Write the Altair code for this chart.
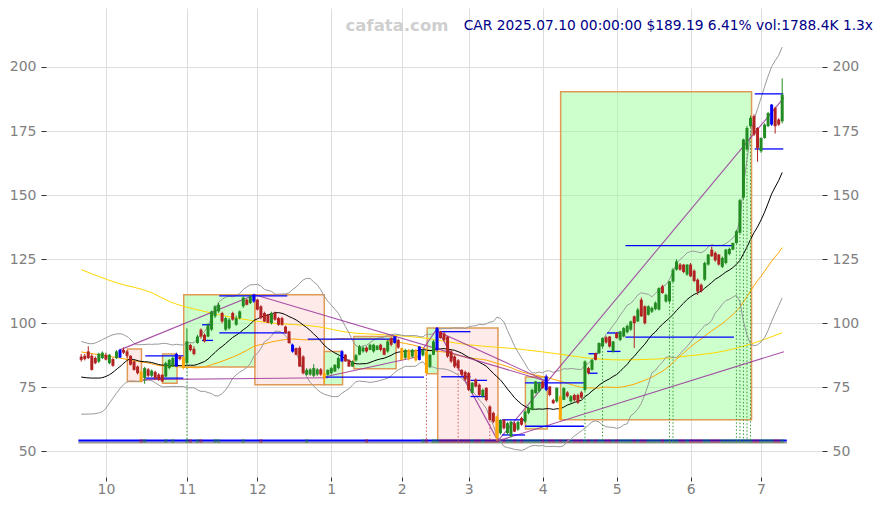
import altair as alt
import pandas as pd

# ---------------- candles (trading-day index 0..199, 2024-09-20 .. 2025-07-10) -------------
open_ = [87.0, 87.3, 89.0, 87.3, 86.5, 85.0, 86.4, 87.7, 84.4, 86.0,
         86.4, 86.6, 89.6, 89.0, 87.3, 85.1, 83.1, 81.2, 78.6, 82.0,
         79.5, 81.0, 80.0, 79.9, 79.2, 82.5, 83.1, 83.1, 87.0, 86.8,
         84.5, 91.5, 90.0, 92.3, 97.5, 95.5, 94.8, 97.5, 102.7, 104.6,
         104.0, 97.5, 98.0, 104.0, 99.4, 102.0, 106.6, 109.2, 107.9, 108.5,
         109.2, 106.6, 104.0, 103.3, 100.0, 104.0, 102.0, 102.0, 98.7, 96.8,
         91.6, 90.3, 90.4, 87.0, 79.9, 80.0, 79.5, 80.0, 82.0, 80.5,
         79.9, 80.5, 81.2, 82.5, 85.1, 87.7, 85.7, 83.1, 85.5, 87.7,
         89.0, 90.5, 89.6, 89.0, 89.6, 91.6, 90.3, 89.0, 94.2, 92.3,
         93.5, 90.3, 86.5, 89.5, 87.0, 89.5, 85.7, 87.5, 89.0, 83.1,
         87.7, 89.6, 96.8, 96.0, 94.8, 89.0, 87.0, 85.5, 81.8, 81.0,
         80.6, 72.8, 78.0, 76.0, 71.5, 74.8, 67.5, 65.0, 63.6, 57.1,
         62.3, 57.1, 55.8, 61.0, 58.5, 63.0, 61.6, 65.0, 66.2, 72.7,
         73.5, 77.3, 74.0, 75.3, 70.0, 69.5, 71.4, 70.1, 73.0, 69.5,
         72.0, 72.0, 73.0, 74.0, 82.5, 81.8, 88.3, 88.3, 90.9, 94.5,
         94.8, 89.0, 96.2, 93.5, 94.8, 96.5, 97.5, 102.7, 100.7, 109.2,
         106.6, 103.3, 104.5, 105.5, 105.3, 114.4, 108.5, 108.5, 116.3, 120.9,
         122.9, 122.9, 119.0, 122.9, 120.5, 117.0, 115.0, 117.0, 122.9, 128.7,
         127.5, 126.8, 122.0, 123.5, 127.0, 128.7, 131.3, 135.3, 149.0, 167.8,
         176.9, 180.8, 176.2, 167.1, 172.3, 176.9, 177.5, 184.0, 179.5, 178.8]
close_ = [85.7, 86.0, 86.4, 81.8, 84.4, 88.1, 88.5, 85.8, 87.7, 83.4,
          89.0, 89.6, 88.5, 87.3, 83.8, 81.8, 80.5, 77.3, 82.5, 79.5,
          81.5, 78.6, 78.0, 77.3, 84.5, 85.7, 86.4, 88.0, 86.0, 82.5,
          92.9, 89.5, 88.0, 94.8, 94.8, 92.9, 99.4, 104.6, 106.6, 107.2,
          100.7, 102.0, 101.4, 101.4, 102.0, 104.6, 110.0, 107.2, 110.5, 111.1,
          105.3, 102.0, 100.7, 100.2, 104.0, 101.4, 99.4, 99.4, 96.2, 92.3,
          88.9, 87.7, 83.1, 80.5, 81.8, 82.0, 82.5, 82.0, 80.0, 78.6,
          81.8, 82.5, 83.8, 86.4, 89.0, 85.1, 83.1, 85.1, 87.5, 90.9,
          90.5, 89.0, 91.6, 91.6, 91.2, 89.6, 87.7, 92.9, 91.6, 94.8,
          90.5, 85.7, 89.5, 86.0, 89.6, 85.5, 90.9, 89.5, 80.5, 87.7,
          92.9, 98.2, 94.2, 93.5, 87.0, 85.1, 83.1, 82.5, 79.9, 78.0,
          74.0, 76.8, 75.3, 72.0, 74.0, 70.0, 62.3, 61.6, 55.3, 62.3,
          59.0, 61.0, 61.6, 57.7, 61.5, 60.4, 65.5, 67.0, 74.0, 77.3,
          76.5, 74.7, 79.2, 72.0, 68.8, 74.8, 62.3, 74.7, 71.5, 71.5,
          70.0, 69.0, 71.0, 85.1, 80.5, 85.7, 85.7, 92.3, 94.2, 92.5,
          90.9, 92.9, 94.2, 96.8, 98.1, 99.0, 100.7, 100.0, 105.3, 102.7,
          100.0, 106.6, 106.0, 108.0, 113.7, 111.8, 111.1, 116.3, 120.9, 124.1,
          120.9, 120.0, 122.9, 118.3, 116.5, 112.4, 112.5, 123.5, 126.8, 126.1,
          124.5, 122.9, 125.5, 128.7, 129.0, 131.3, 135.9, 148.0, 171.7, 176.2,
          180.1, 173.6, 168.4, 172.3, 177.5, 182.0, 185.3, 176.9, 177.5, 189.2]
high_ = [88.0, 88.0, 91.0, 88.0, 87.0, 88.5, 89.0, 88.5, 88.0, 86.5,
         89.5, 90.0, 90.5, 89.5, 87.5, 85.5, 83.5, 81.5, 83.0, 82.5,
         82.0, 81.5, 80.5, 80.0, 85.0, 86.0, 87.0, 88.5, 87.5, 87.0,
         98.0, 92.0, 91.0, 95.5, 98.0, 96.0, 100.0, 105.0, 107.0, 108.0,
         104.5, 102.5, 102.0, 104.5, 103.0, 105.0, 110.5, 109.5, 111.0, 111.5,
         109.5, 107.0, 104.5, 103.5, 104.5, 104.5, 102.5, 102.5, 99.0, 97.0,
         92.0, 90.5, 91.0, 87.5, 82.5, 82.5, 84.0, 82.5, 82.5, 81.0,
         82.0, 83.0, 84.0, 87.0, 89.5, 88.0, 86.0, 85.5, 88.0, 91.5,
         91.0, 91.0, 92.0, 92.0, 91.5, 92.0, 90.5, 93.5, 94.5, 95.0,
         94.0, 90.5, 90.0, 90.0, 90.0, 90.0, 91.0, 90.0, 89.5, 88.0,
         93.5, 98.5, 97.0, 96.5, 95.0, 89.5, 87.5, 86.0, 82.0, 81.5,
         81.0, 77.0, 78.5, 76.5, 74.5, 75.0, 68.0, 65.5, 64.0, 62.5,
         62.5, 61.5, 62.0, 61.5, 62.0, 63.5, 66.0, 67.5, 74.5, 77.5,
         77.0, 77.5, 80.0, 75.5, 70.5, 75.0, 72.0, 75.0, 73.5, 72.0,
         72.5, 72.5, 73.5, 85.5, 83.0, 86.0, 88.5, 92.5, 94.5, 95.0,
         95.0, 93.0, 96.5, 97.0, 98.5, 99.5, 101.0, 103.0, 106.0, 110.0,
         107.0, 107.0, 106.5, 108.5, 114.0, 115.0, 111.5, 116.5, 121.5, 125.0,
         123.5, 123.0, 123.0, 123.5, 121.0, 117.5, 115.5, 124.0, 127.0, 130.0,
         128.0, 127.0, 126.0, 129.0, 129.5, 131.5, 136.5, 148.5, 172.0, 177.0,
         181.0, 181.5, 176.5, 172.5, 178.0, 182.5, 185.5, 184.5, 180.0, 195.5]
low_ = [85.0, 85.5, 86.0, 81.5, 84.0, 84.5, 86.0, 85.5, 84.0, 83.0,
        86.0, 86.5, 88.0, 86.5, 83.5, 81.5, 80.0, 77.0, 76.4, 79.0,
        79.0, 78.0, 77.5, 77.0, 79.0, 82.0, 83.0, 83.0, 85.5, 82.0,
        84.0, 89.0, 87.5, 92.0, 94.0, 92.5, 94.5, 97.0, 102.0, 104.0,
        100.0, 97.0, 97.5, 101.0, 99.0, 101.5, 106.0, 107.0, 107.5, 108.0,
        105.0, 101.5, 100.5, 100.0, 99.5, 101.0, 99.0, 99.0, 96.0, 92.0,
        88.5, 87.5, 83.0, 80.0, 79.5, 79.5, 79.0, 79.5, 79.5, 76.5,
        79.5, 80.0, 81.0, 82.0, 85.0, 85.0, 83.0, 83.0, 85.0, 87.5,
        88.5, 88.5, 89.5, 88.5, 89.5, 89.0, 87.5, 88.5, 91.0, 92.0,
        90.0, 85.5, 86.0, 85.5, 86.5, 85.0, 85.5, 87.0, 80.0, 82.5,
        87.5, 89.0, 94.0, 93.0, 86.5, 84.5, 82.5, 82.0, 79.5, 77.5,
        73.5, 72.5, 75.0, 71.5, 71.0, 69.5, 62.0, 61.0, 54.1, 56.5,
        58.5, 56.5, 55.5, 57.5, 58.0, 60.0, 61.0, 64.5, 66.0, 72.5,
        73.0, 74.5, 73.5, 71.5, 68.5, 69.0, 62.0, 70.0, 71.0, 69.0,
        69.5, 68.5, 70.5, 73.5, 80.0, 81.5, 85.5, 88.0, 90.5, 92.0,
        90.5, 88.5, 94.0, 93.0, 94.5, 96.0, 97.0, 90.3, 100.5, 102.5,
        99.5, 103.0, 104.0, 105.0, 105.0, 111.5, 108.0, 108.0, 116.0, 120.5,
        120.5, 119.5, 118.5, 118.0, 116.0, 111.0, 112.0, 116.5, 122.5, 126.0,
        124.0, 122.5, 121.5, 123.0, 126.5, 128.5, 131.0, 135.0, 148.5, 167.5,
        176.5, 173.0, 163.0, 166.5, 172.0, 176.5, 177.0, 174.0, 177.0, 178.0]
blue_idx = [11, 27, 49, 60, 74, 89, 96, 101, 132, 196]
orange_idx = [17, 29, 69, 91, 93, 95, 98, 118, 136]

# indicator lines: early part (needs data before the window)
ma20_pre_i = [0, 3, 5, 8, 11, 14, 17, 19]
ma20_pre_v = [79.0, 78.6, 78.6, 79.9, 83.1, 86.0, 85.1, 84.9]
bbu_pre_i = [0, 3, 6, 9, 11, 13, 16, 19]
bbu_pre_v = [92.9, 92.0, 93.6, 95.5, 95.9, 94.8, 91.6, 91.8]
bbl_pre_i = [0, 3, 6, 8, 10, 12, 14, 16, 19]
bbl_pre_v = [64.5, 64.6, 65.5, 68.8, 72.7, 76.0, 77.5, 77.3, 77.9]
ma50_pre_i = [0, 5, 11, 16, 19, 22, 26, 30, 33, 37, 41, 45, 49]
ma50_pre_v = [88.8, 87.7, 86.4, 85.1, 84.5, 83.5, 83.1, 82.8, 82.6, 83.8, 85.7, 88.0, 90.95]
ma200_i = [0, 10, 20, 25, 35, 44, 54, 67, 76, 86, 95, 110, 125, 135, 144, 153, 163, 172, 182, 191, 199]
ma200_v = [120.9, 115.8, 111.9, 108.5, 104.6, 102.0, 100.1, 98.7, 96.4, 95.5, 94.6, 91.6, 89.8,
           88.1, 86.4, 85.7, 86.0, 87.2, 89.0, 92.3, 96.3]

# pattern boxes
box_i0 = [13.1, 23.1, 29.1, 49.3, 69.0, 77.4, 98.2, 101.2, 126.1, 136.1]
box_i1 = [17.1, 27.2, 49.3, 69.0, 74.2, 89.4, 101.2, 118.3, 132.3, 190.3]
box_lo = [77.3, 76.6, 82.9, 76.0, 76.0, 82.2, 80.3, 54.1, 58.7, 62.3]
box_hi = [89.9, 88.0, 111.1, 111.1, 89.0, 94.8, 98.1, 98.1, 79.0, 190.3]
box_kind = ['down', 'up', 'up', 'down', 'up', 'up', 'up', 'down', 'up', 'up']

# blue horizontal levels
seg_i0 = [18.2, 18.2, 34.3, 34.3, 39.2, 39.2, 64.3, 69.3, 102.2, 102.2, 110.5, 110.5,
          119.5, 119.5, 126.0, 126.0, 144.0, 144.0, 149.3, 149.3, 154.5, 154.5, 191.2, 191.2]
seg_i1 = [29.0, 29.0, 37.4, 37.4, 58.5, 58.5, 89.4, 97.3, 110.5, 110.5, 115.2, 115.2,
          126.0, 126.0, 142.7, 142.7, 146.6, 146.6, 153.1, 153.1, 185.3, 185.3, 199.3, 199.3]
seg_v = [87.3, 78.6, 99.4, 93.3, 110.7, 96.2, 93.8, 79.0, 96.7, 79.1, 77.7, 71.4,
         62.3, 56.4, 76.7, 59.8, 88.1, 80.5, 96.2, 89.0, 130.3, 94.6, 189.5, 168.0]

# purple trend lines
tl_i0 = [11.0, 49.3, 17.5, 69.3, 95.5, 101.2, 101.2, 118.3, 118.3]
tl_v0 = [89.6, 111.1, 78.0, 79.1, 86.9, 97.5, 96.8, 54.1, 54.1]
tl_i1 = [49.3, 132.3, 70.0, 95.5, 101.2, 118.3, 132.3, 199.5, 199.5]
tl_v1 = [111.1, 77.3, 78.7, 86.9, 98.2, 54.1, 77.3, 88.9, 188.0]

# signal markers (dotted verticals)
dot_green = [30, 143, 148, 167, 168, 186, 187, 188, 189, 190]
dot_red = [98, 107, 116]

# visible volume marks on the base line
vol_idx = [17, 18, 24, 26, 30, 31, 33, 34, 38, 39, 46, 51, 64, 81, 97, 98, 100, 101] + list(range(102, 200))

tick_idx = [7, 30, 50, 71, 91, 110, 131, 152, 173, 193]
tick_lab = ['10', '11', '12', '1', '2', '3', '4', '5', '6', '7']

title_txt = "CAR 2025.07.10 00:00:00 $189.19 6.41% vol:1788.4K 1.3x"
mark_txt = "cafata.com"

# ---------------- frames ----------------
n = len(close_)
kind = []
for i in range(n):
    if i in blue_idx:
        kind.append('b')
    elif i in orange_idx:
        kind.append('o')
    elif close_[i] >= open_[i]:
        kind.append('g')
    else:
        kind.append('r')
candles = pd.DataFrame(dict(i=list(range(n)), o=open_, c=close_, h=high_, l=low_, k=kind))
boxes = pd.DataFrame(dict(x0=box_i0, x1=box_i1, lo=box_lo, hi=box_hi, kind=box_kind))
segs = pd.DataFrame(dict(x0=seg_i0, x1=seg_i1, v=seg_v))
tls = pd.DataFrame(dict(x0=tl_i0, y0=tl_v0, x1=tl_i1, y1=tl_v1))
dots = pd.DataFrame(dict(i=dot_green + dot_red,
                         l=[low_[i] for i in dot_green + dot_red],
                         k=['g'] * len(dot_green) + ['r'] * len(dot_red)))
dots['base'] = 54.2
vol = pd.DataFrame(dict(i=vol_idx, k=['g' if close_[i] >= open_[i] else 'r' for i in vol_idx]))
vol['a'] = vol['i'] - 0.45
vol['b'] = vol['i'] + 0.45
vol['y0'] = 53.3
vol['y1'] = 54.8
base = pd.DataFrame(dict(x0=[-0.8], x1=[200.3], yb=[54.2], yg=[53.5]))

xs = alt.Scale(domain=[-10, 210.3], nice=False, zero=False, padding=0)
ys = alt.Scale(domain=[40, 223], nice=False, zero=False, padding=0)
FONT = "DejaVu Sans"

label_expr = "".join(f"datum.value=={t}?'{l}':" for t, l in zip(tick_idx, tick_lab)) + "''"
x_axis = alt.Axis(values=tick_idx, labelExpr=label_expr, grid=True, gridColor='#dddddd',
                  domain=False, ticks=True, tickColor='#333333', tickSize=4,
                  labelColor='#808080', labelFontSize=14, labelFont=FONT, labelPadding=1, title=None)
y_left = alt.Axis(orient='left', values=[50, 75, 100, 125, 150, 175, 200], grid=True, gridColor='#dddddd',
                  domain=False, ticks=True, tickColor='#333333', tickSize=5,
                  labelColor='#808080', labelFontSize=14, labelFont=FONT, labelPadding=5, title=None)
y_right = alt.Axis(orient='right', values=[50, 75, 100, 125, 150, 175, 200], grid=False,
                   domain=False, ticks=True, tickColor='#333333', tickSize=5,
                   labelColor='#808080', labelFontSize=14, labelFont=FONT, labelPadding=5, title=None)

CANDLE_COLORS = {'r': '#b22222', 'g': '#228b22', 'b': '#0000ff', 'o': '#ffa500'}


def kcolor():
    return alt.Color('k:N', scale=alt.Scale(domain=list(CANDLE_COLORS.keys()),
                                            range=list(CANDLE_COLORS.values())), legend=None)


box_layer = alt.Chart(boxes).mark_rect(stroke='#e09a55', strokeWidth=1.5, fillOpacity=0.5).encode(
    x=alt.X('x0:Q', scale=xs, axis=x_axis), x2='x1:Q',
    y=alt.Y('lo:Q', scale=ys, axis=y_left), y2='hi:Q',
    fill=alt.Fill('kind:N', scale=alt.Scale(domain=['up', 'down'], range=['#99ff99', '#ffd6d6']), legend=None))

grey_base = alt.Chart(base).mark_rule(color='#999999', strokeWidth=2).encode(
    x=alt.X('x0:Q', scale=xs, axis=None), x2='x1:Q',
    y=alt.Y('yg:Q', scale=ys, axis=y_right))
blue_base = alt.Chart(base).mark_rule(color='#0000ff', strokeWidth=2).encode(
    x=alt.X('x0:Q', scale=xs, axis=None), x2='x1:Q', y=alt.Y('yb:Q', scale=ys, axis=None))

vol_layer = alt.Chart(vol).mark_rect(opacity=0.45).encode(
    x=alt.X('a:Q', scale=xs, axis=None), x2='b:Q',
    y=alt.Y('y0:Q', scale=ys, axis=None), y2='y1:Q', color=kcolor())


def typed_line(ii, vv, color, width=1.0):
    d = pd.DataFrame(dict(i=ii, v=vv))
    return alt.Chart(d).mark_line(color=color, strokeWidth=width, interpolate='monotone').encode(
        x=alt.X('i:Q', scale=xs, axis=None), y=alt.Y('v:Q', scale=ys, axis=None))


stats = alt.Chart(candles).transform_window(
    ma20='mean(c)', sd20='stdev(c)', frame=[-19, 0], sort=[alt.SortField('i')]
).transform_calculate(
    up='datum.ma20 + 2 * datum.sd20', lo='datum.ma20 - 2 * datum.sd20'
).transform_filter('datum.i >= 19')
ma50 = alt.Chart(candles).transform_window(
    m50='mean(c)', frame=[-49, 0], sort=[alt.SortField('i')]
).transform_filter('datum.i >= 49')

xq = alt.X('i:Q', scale=xs, axis=None)
lines = [
    typed_line(ma200_i, ma200_v, '#ffd700'),
    typed_line(ma50_pre_i, ma50_pre_v, '#ffa500'),
    ma50.mark_line(color='#ffa500', strokeWidth=1).encode(x=xq, y=alt.Y('m50:Q', scale=ys, axis=None)),
    typed_line(bbu_pre_i, bbu_pre_v, '#999999'),
    typed_line(bbl_pre_i, bbl_pre_v, '#999999'),
    stats.mark_line(color='#999999', strokeWidth=1).encode(x=xq, y=alt.Y('up:Q', scale=ys, axis=None)),
    stats.mark_line(color='#999999', strokeWidth=1).encode(x=xq, y=alt.Y('lo:Q', scale=ys, axis=None)),
    typed_line(ma20_pre_i, ma20_pre_v, '#000000'),
    stats.mark_line(color='#000000', strokeWidth=1).encode(x=xq, y=alt.Y('ma20:Q', scale=ys, axis=None)),
]

dot_layer = alt.Chart(dots).mark_rule(strokeDash=[1.5, 2], strokeWidth=1).encode(
    x=xq, y=alt.Y('l:Q', scale=ys, axis=None), y2='base:Q',
    color=alt.Color('k:N', scale=alt.Scale(domain=['g', 'r'], range=['#3a9a3a', '#d06060']), legend=None))

tl_layer = alt.Chart(tls).mark_rule(color='#993399', strokeWidth=1.1, opacity=0.85).encode(
    x=alt.X('x0:Q', scale=xs, axis=None), y=alt.Y('y0:Q', scale=ys, axis=None), x2='x1:Q', y2='y1:Q')

seg_layer = alt.Chart(segs).mark_rule(color='#0000ff', strokeWidth=1.3).encode(
    x=alt.X('x0:Q', scale=xs, axis=None), x2='x1:Q', y=alt.Y('v:Q', scale=ys, axis=None))

wick = alt.Chart(candles).mark_rule(strokeWidth=1).encode(
    x=xq, y=alt.Y('l:Q', scale=ys, axis=None), y2='h:Q', color=kcolor())
body = alt.Chart(candles).mark_bar(size=3).encode(
    x=xq, y=alt.Y('o:Q', scale=ys, axis=None), y2='c:Q', color=kcolor())

title_layer = alt.Chart(pd.DataFrame(dict(t=[title_txt]))).mark_text(
    align='right', baseline='middle', font=FONT, fontSize=13.8, color='#000088').encode(
    text='t:N', x=alt.value(827), y=alt.value(18))
wm_layer = alt.Chart(pd.DataFrame(dict(t=[mark_txt]))).mark_text(
    align='center', baseline='middle', font=FONT, fontSize=16.5, fontWeight='bold', color='#cfcfcf').encode(
    text='t:N', x=alt.value(351), y=alt.value(18))

chart = alt.layer(
    box_layer, grey_base, blue_base, vol_layer, *lines, dot_layer, tl_layer, seg_layer,
    wick, body, wm_layer, title_layer
).resolve_axis(y='independent', x='independent').resolve_scale(
    color='independent', fill='independent'
).properties(
    width=776, height=469,
    autosize=alt.AutoSizeParams(type='none'),
    padding={'left': 38, 'top': 0, 'right': 53, 'bottom': 20},
).configure_view(stroke=None)

chart.save("out.html", embed_options={"renderer": "svg", "actions": False})
